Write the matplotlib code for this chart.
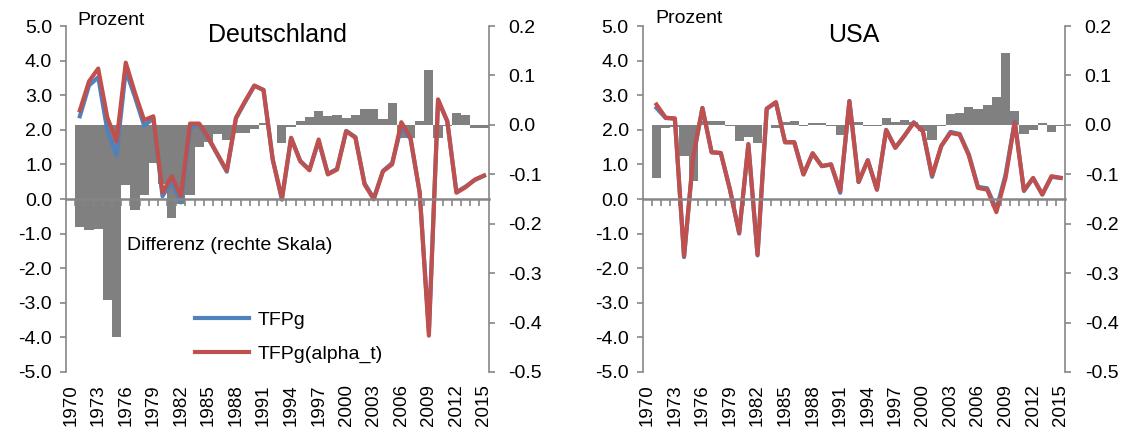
import numpy as np
import matplotlib.pyplot as plt
from matplotlib import transforms

plt.rcParams['font.family'] = ['Liberation Sans', 'DejaVu Sans']

categories = list(range(1970, 2016))
years = list(range(1971, 2016))
label_years = list(range(1970, 2016, 3))

# Deutschland
de_tfpg = [2.39, 3.28, 3.52, 1.98, 1.27, 3.72, 2.95, 2.12, 2.33, 0.08,
           0.52, -0.10, 2.06, 2.14, 1.74, 1.27, 0.79, 2.33, 2.81, 3.27,
           3.15, 1.14, -0.02, 1.76, 1.10, 0.85, 1.67, 0.73, 0.87, 1.97,
           1.79, 0.45, 0.02, 0.81, 1.04, 2.09, 1.74, 0.19, -3.81, 2.85,
           2.25, 0.20, 0.36, 0.55, 0.67]
de_tfpg_alpha = [2.56, 3.40, 3.77, 2.35, 1.67, 3.94, 3.07, 2.28, 2.39, 0.18,
                 0.66, 0.08, 2.18, 2.18, 1.77, 1.29, 0.82, 2.35, 2.83, 3.28,
                 3.15, 1.14, 0.02, 1.77, 1.09, 0.83, 1.72, 0.71, 0.85, 1.96,
                 1.77, 0.42, -0.01, 0.80, 1.00, 2.22, 1.77, 0.18, -3.95, 2.88,
                 2.25, 0.18, 0.34, 0.56, 0.68]
de_diff = [-0.206, -0.213, -0.211, -0.354, -0.430, -0.121, -0.172, -0.141, -0.078, -0.120,
           -0.189, -0.160, -0.142, -0.044, -0.034, -0.018, -0.030, -0.017, -0.016, -0.008,
           0.004, 0.000, -0.036, -0.005, 0.007, 0.016, 0.028, 0.017, 0.020, 0.014,
           0.020, 0.032, 0.032, 0.012, 0.044, -0.027, -0.027, 0.007, 0.111, -0.027,
           -0.002, 0.024, 0.019, -0.007, -0.007]

# USA
us_tfpg = [2.63, 2.34, 2.32, -1.68, 1.20, 2.63, 1.35, 1.33, 0.27, -1.00,
           1.57, -1.63, 2.61, 2.79, 1.64, 1.64, 0.71, 1.32, 0.95, 1.00,
           0.18, 2.83, 0.49, 1.12, 0.27, 2.00, 1.48, 1.83, 2.22, 1.95,
           0.64, 1.53, 1.94, 1.88, 1.29, 0.35, 0.31, -0.30, 0.70, 2.25,
           0.23, 0.60, 0.13, 0.64, 0.61]
us_tfpg_alpha = [2.73, 2.35, 2.33, -1.65, 1.24, 2.63, 1.35, 1.33, 0.27, -0.98,
                 1.59, -1.60, 2.61, 2.80, 1.64, 1.64, 0.71, 1.32, 0.95, 1.00,
                 0.23, 2.83, 0.49, 1.12, 0.27, 1.99, 1.48, 1.83, 2.20, 1.96,
                 0.68, 1.53, 1.91, 1.86, 1.26, 0.32, 0.27, -0.38, 0.61, 2.22,
                 0.25, 0.61, 0.13, 0.66, 0.61]
us_diff = [-0.108, -0.006, -0.005, -0.064, -0.113, 0.007, 0.008, 0.008, -0.003, -0.032,
           -0.025, -0.036, 0.000, -0.007, 0.005, 0.008, -0.002, 0.004, 0.003, -0.002,
           -0.020, 0.005, 0.005, -0.003, -0.002, 0.013, 0.005, 0.009, 0.006, -0.012,
           -0.030, -0.002, 0.021, 0.025, 0.037, 0.033, 0.041, 0.057, 0.146, 0.029,
           -0.019, -0.011, 0.004, -0.015, -0.002]

left_ticks = [-5, -4, -3, -2, -1, 0, 1, 2, 3, 4, 5]
right_ticks = [-0.5, -0.4, -0.3, -0.2, -0.1, 0.0, 0.1, 0.2]

BLUE = '#4F81BD'
RED = '#C0504D'
GRAY = '#808080'
AXIS = '#868686'
FS = 14

fig = plt.figure(figsize=(11.25, 4.32), dpi=100)


def fmt(v):
    s = '%.1f' % v
    return '0.0' if s == '-0.0' else s


def panel(rect, tfpg, tfpg_alpha, diff, title):
    ax = fig.add_axes(rect)
    ax2 = ax.twinx()
    ax.set_zorder(ax2.get_zorder() + 1)
    ax.patch.set_visible(False)

    ax2.bar(years, diff, width=1.0, color=GRAY, linewidth=0)
    ax.plot(years, tfpg, color=BLUE, lw=3.0, label='TFPg')
    ax.plot(years, tfpg_alpha, color=RED, lw=3.0, label='TFPg(alpha_t)')

    ax.set_xlim(categories[0] - 0.5, categories[-1] + 0.5)
    ax.set_ylim(-5, 5)
    ax2.set_ylim(-0.5, 0.2)
    ax.set_yticks(left_ticks)
    ax.set_yticklabels([fmt(v) for v in left_ticks])
    ax2.set_yticks(right_ticks)
    ax2.set_yticklabels([fmt(v) for v in right_ticks])

    for a in (ax, ax2):
        a.spines['top'].set_visible(False)
        a.spines['bottom'].set_visible(False)
        for s in ('left', 'right'):
            a.spines[s].set_color(AXIS)
            a.spines[s].set_linewidth(1.2)
    ax.spines['right'].set_visible(False)
    ax2.spines['left'].set_visible(False)

    # category axis sits on the zero line, labels stay at the bottom
    ax.spines['bottom'].set_visible(True)
    ax.spines['bottom'].set_position(('data', 0))
    ax.spines['bottom'].set_color(AXIS)
    ax.spines['bottom'].set_linewidth(1.8)
    ax.set_xticks([c + 0.5 for c in categories[:-1]])
    ax.set_xticklabels([])
    ax.tick_params(axis='x', direction='out', length=5, width=1.2, color=AXIS)
    ax.tick_params(axis='y', direction='out', length=4, width=1.2, color=AXIS,
                   labelsize=FS, pad=6)
    ax2.tick_params(axis='y', direction='out', length=4, width=1.2, color=AXIS,
                    labelsize=FS, pad=10)

    trans = transforms.blended_transform_factory(ax.transData, ax.transAxes)
    for y in label_years:
        ax.text(y, -0.035, str(y), transform=trans, rotation=90, ha='center',
                va='top', fontsize=13.5)

    ax.text(0.5, 0.975, title, transform=ax.transAxes, ha='center', va='center',
            fontsize=18)
    return ax


ax_de = panel([0.0587, 0.1389, 0.3756, 0.8009], de_tfpg, de_tfpg_alpha, de_diff,
              'Deutschland')
ax_de.text(0.026, 1.017, 'Prozent', transform=ax_de.transAxes, ha='left',
           va='center', fontsize=FS)
ax_de.text(0.144, 0.367, 'Differenz (rechte Skala)', transform=ax_de.transAxes,
           ha='left', va='center', fontsize=FS)
ax_de.legend(loc='upper left', bbox_to_anchor=(0.305, 0.175), frameon=False,
             fontsize=FS, handlelength=2.8, handletextpad=0.45, borderpad=0,
             borderaxespad=0, labelspacing=0.85)

ax_us = panel([0.5713, 0.1389, 0.3756, 0.8009], us_tfpg, us_tfpg_alpha, us_diff,
              'USA')
ax_us.text(0.029, 1.023, 'Prozent', transform=ax_us.transAxes, ha='left',
           va='center', fontsize=FS)

fig.savefig('out.png', dpi=100)
